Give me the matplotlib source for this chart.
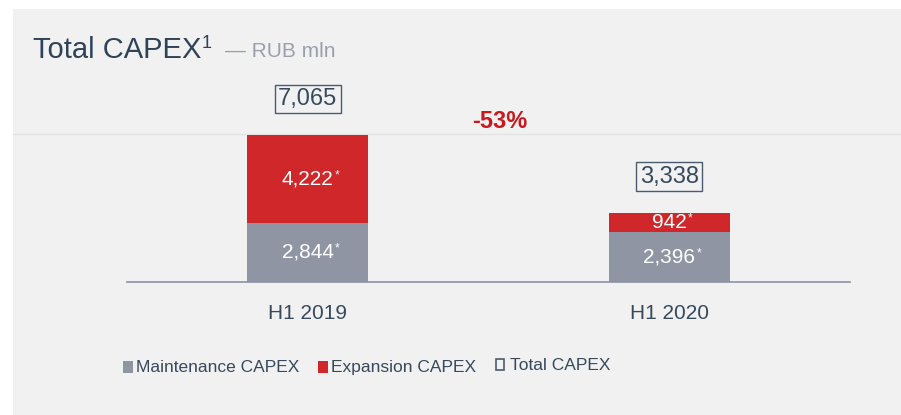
import matplotlib
matplotlib.use("Agg")
import matplotlib.pyplot as plt
from matplotlib.patches import Rectangle
from matplotlib.lines import Line2D

# ---- data ----
categories = ["H1 2019", "H1 2020"]
maintenance = [2844, 2396]
expansion = [4222, 942]
totals = [7065, 3338]
change_label = "-53%"
legend_labels = ["Maintenance CAPEX", "Expansion CAPEX", "Total CAPEX"]

W, H = 901, 415
DPI = 100
plt.rcParams['font.family'] = ['Liberation Sans', 'DejaVu Sans']

TXT = '#36495d'
GRAY = '#8f95a3'
RED = '#d0282a'
PANEL = '#f1f1f1'

fig = plt.figure(figsize=(W / DPI, H / DPI), dpi=DPI, facecolor='white')

def fx(x):
    return x / W

def fy(y):
    return 1 - y / H

# background panel
fig.add_artist(Rectangle((fx(13), 0), 1 - fx(13), fy(9), transform=fig.transFigure,
                         facecolor=PANEL, edgecolor='none', zorder=-10))
# faint separator line
fig.add_artist(Line2D([fx(13), 1], [fy(134), fy(134)], transform=fig.transFigure,
                      color='#e3e3e3', lw=1, zorder=-5))

# axes
ax_top = 80
ax = fig.add_axes([fx(127), fy(282), fx(850) - fx(127), (282 - ax_top) / H])
ax.set_facecolor('none')
px_per_unit = 147 / 7065
ax.set_xlim(-0.5, 1.5)
ax.set_ylim(0, (282 - ax_top) / px_per_unit)

x = list(range(len(categories)))
bw = 0.335
ax.bar(x, maintenance, width=bw, color=GRAY, zorder=2)
ax.bar(x, expansion, width=bw, bottom=maintenance, color=RED, zorder=2)

for s in ['top', 'right', 'left']:
    ax.spines[s].set_visible(False)
ax.spines['bottom'].set_color('#8a93a3')
ax.spines['bottom'].set_linewidth(1.2)
ax.set_yticks([])
ax.set_xticks(x)
ax.set_xticklabels(categories, fontsize=15, color=TXT)
ax.tick_params(axis='x', length=0, pad=16)

# inner labels with asterisk
def inner_label(xc, yc, val):
    t = ax.text(xc, yc, f"{val:,}", ha='center', va='center', color='white', fontsize=15, zorder=3)
    ax.annotate('*', xy=(1, 1), xycoords=t, xytext=(1.0, 0), textcoords='offset points',
                ha='left', va='top', color='white', fontsize=8.5, zorder=3)

for i in x:
    inner_label(i, maintenance[i] / 2, maintenance[i])
    inner_label(i, maintenance[i] + expansion[i] / 2, expansion[i])
    ax.annotate(f"{totals[i]:,}", xy=(i, totals[i]), xytext=(0, 21.5), textcoords='offset points',
                ha='center', va='baseline', fontsize=17, color=TXT, annotation_clip=False,
                bbox=dict(boxstyle='square,pad=0.14', fc='none', ec='#4a5b6e', lw=1))

# change label
fig.text(fx(500), fy(122), change_label, ha='center', va='center', fontsize=17,
         fontweight='bold', color='#c9191e')

# title
fig.text(fx(33), fy(58), "Total CAPEX", fontsize=21, color='#2f4358', va='baseline')
fig.text(fx(202), fy(48), "1", fontsize=13, color='#2f4358', va='baseline')
fig.text(fx(225), fy(57), "— RUB mln", fontsize=15, color='#9aa0ab', va='baseline')

# legend
LEG_FS = 12.5
fig.add_artist(Rectangle((fx(123), fy(373)), fx(10), 12 / H, transform=fig.transFigure,
                         facecolor=GRAY, edgecolor='none'))
fig.text(fx(136), fy(372), legend_labels[0], fontsize=LEG_FS, color=TXT, va='baseline')
fig.add_artist(Rectangle((fx(318), fy(373)), fx(10), 12 / H, transform=fig.transFigure,
                         facecolor=RED, edgecolor='none'))
fig.text(fx(331), fy(372), legend_labels[1], fontsize=LEG_FS, color=TXT, va='baseline')
fig.add_artist(Rectangle((fx(496), fy(370)), fx(8), 11 / H, transform=fig.transFigure,
                         facecolor='none', edgecolor='#4a5b6e', lw=1.2))
fig.text(fx(510), fy(370), legend_labels[2], fontsize=LEG_FS, color=TXT, va='baseline')

fig.savefig('out.png', dpi=DPI, facecolor='white')
